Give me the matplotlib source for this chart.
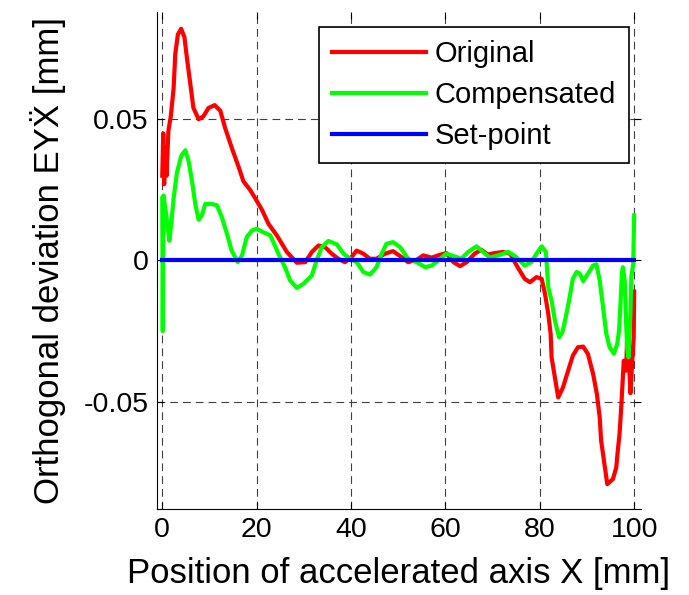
import numpy as np
import matplotlib
matplotlib.use("Agg")
import matplotlib.pyplot as plt
from matplotlib import ticker

# values
red_x = [0, 0.2, 0.4, 0.6, 0.9, 1.3, 1.8, 2.4, 2.75, 3.3, 4.0, 4.7, 5.2, 5.9, 6.6,
         7.7, 8.7, 9.8, 11.1, 12.3, 13.3, 14.7, 16.2, 17.2, 18.6, 19.7, 21.1, 22.5,
         24.3, 26.4, 28.5, 30.3, 31.7, 33.1, 34.5, 35.9, 37.3, 38.7, 40.1, 41.2,
         42.6, 44.0, 45.4, 47.2, 48.9, 50.7, 52.1, 53.9, 55.3, 57.1, 58.8, 60.2,
         61.7, 63.1, 64.5, 66.2, 67.6, 69.0, 70.4, 72.2, 73.7, 74.7, 75.7, 76.8,
         77.9, 79.3, 80.4, 81.1, 81.8, 82.3, 82.5, 83.2, 83.9, 84.9, 85.9, 87.0,
         88.1, 89.2, 90.2, 91.3, 92.1, 92.7, 93.0, 93.8, 94.3, 95.5, 96.2, 96.6,
         96.9, 97.3, 97.6, 97.8, 98.3, 98.5, 98.9, 99.2, 99.6, 99.9, 100.0]
red_y = [0.030, 0.045, 0.027, 0.040, 0.030, 0.046, 0.051, 0.061, 0.073, 0.080,
         0.082, 0.079, 0.072, 0.063, 0.054, 0.050, 0.051, 0.054, 0.055, 0.053,
         0.047, 0.040, 0.033, 0.028, 0.025, 0.022, 0.018, 0.013, 0.0088, 0.0030,
         -0.0008, -0.0006, 0.0030, 0.0053, 0.0047, 0.0024, 0.0006, -0.0006, 0.0012,
         0.0035, 0.0024, 0.0006, 0.0006, 0.0024, 0.0033, 0.0012, -0.0006, 0.0002,
         0.0018, 0.0010, 0.0020, 0.0026, -0.0006, -0.0020, -0.0006, 0.0024, 0.0038,
         0.0021, 0.0026, 0.0030, 0.0024, -0.0006, -0.0035, -0.0065, -0.0077,
         -0.0059, -0.0065, -0.0118, -0.0189, -0.0260, -0.0343, -0.0414, -0.0485,
         -0.0450, -0.0396, -0.0337, -0.0307, -0.0305, -0.0331, -0.0402, -0.0473,
         -0.0556, -0.0638, -0.0733, -0.0792, -0.0774, -0.0733, -0.0662, -0.0615,
         -0.0508, -0.0414, -0.0355, -0.0390, -0.0280, -0.0355, -0.0470, -0.0355,
         -0.0270, -0.0110]

green_x = [0, 0.1, 0.25, 1.0, 1.5, 1.9, 2.4, 3.1, 4.0, 4.9, 5.6, 6.3, 7.0, 7.7,
           8.4, 9.1, 10.5, 11.6, 12.6, 13.7, 14.7, 16.0, 16.9, 17.9, 19.0, 20.0,
           21.4, 22.9, 24.6, 26.0, 27.1, 28.5, 29.9, 31.7, 32.7, 33.8, 35.2, 37.0,
           38.4, 39.8, 41.2, 42.6, 44.0, 45.4, 46.5, 47.5, 48.9, 50.4, 52.1, 53.9,
           55.7, 57.1, 58.5, 60.2, 62.0, 63.4, 64.8, 66.6, 68.0, 69.4, 71.2, 73.3,
           74.8, 76.8, 78.2, 79.3, 80.4, 81.3, 81.8, 82.5, 83.2, 84.1, 84.8, 85.5,
           86.2, 87.0, 87.8, 88.5, 89.2, 90.2, 91.3, 92.0, 92.7, 93.4, 94.1, 94.8,
           95.7, 96.4, 96.8, 97.1, 97.4, 97.6, 98.0, 98.2, 98.5, 98.8, 99.2, 99.4,
           99.8, 100.0]
green_y = [0.022, -0.025, 0.023, 0.014, 0.007, 0.013, 0.022, 0.031, 0.037, 0.039,
           0.035, 0.028, 0.020, 0.0144, 0.016, 0.020, 0.020, 0.0195, 0.0154, 0.0095,
           0.0035, -0.0006, 0.0018, 0.0083, 0.0106, 0.0112, 0.0100, 0.0089, 0.0024,
           -0.0024, -0.0071, -0.0097, -0.0083, -0.0053, 0.0, 0.0047, 0.0069, 0.0057,
           0.0024, 0.0006, -0.0006, -0.0041, -0.0050, -0.0024, 0.0024, 0.0059,
           0.0065, 0.0047, 0.0006, -0.0006, -0.0024, -0.0018, 0.0, 0.0024, 0.0014,
           0.0006, 0.0030, 0.0050, 0.0030, 0.0010, 0.0018, 0.0030, 0.0015, -0.0018,
           -0.0006, 0.0024, 0.0050, 0.0030, -0.0095, -0.0142, -0.0213, -0.0272,
           -0.0254, -0.0201, -0.0142, -0.0065, -0.0041, -0.0047, -0.0073, -0.0047,
           -0.0018, -0.0014, -0.0071, -0.0165, -0.0260, -0.0307, -0.0330, -0.0296,
           -0.0248, -0.0154, -0.0047, -0.0024, -0.0071, -0.0177, -0.0307, -0.0343,
           -0.0189, -0.0059, -0.0012, 0.0160]

set_x = [0, 100]
set_y = [0, 0]

x_ticks = [0, 20, 40, 60, 80, 100]
y_ticks = [-0.05, 0, 0.05]
y_tick_labels = ["-0.05", "0", "0.05"]


def plot_deviation():
    plt.rcParams['font.family'] = ['Liberation Sans', 'DejaVu Sans']

    fig = plt.figure(figsize=(6.89, 5.95), dpi=100)
    ax = fig.add_axes([0.228, 0.1445, 0.702, 0.8355])

    grid_style = dict(color='0.25', linewidth=0.8, linestyle=(0, (7, 4.5)), zorder=0)
    for xv in x_ticks:
        ax.axvline(xv, **grid_style)
    for yv in y_ticks:
        ax.axhline(yv, **grid_style)

    ax.plot(red_x, red_y, color='#ff0000', linewidth=3, solid_joinstyle='round',
            label='Original', zorder=2)
    ax.plot(green_x, green_y, color='#00ff00', linewidth=3, solid_joinstyle='round',
            label='Compensated', zorder=3)
    ax.plot(set_x, set_y, color='#0000ff', linewidth=3, label='Set-point', zorder=4)

    ax.set_xlim(-1.1, 101.4)
    ax.set_ylim(-0.088, 0.088)
    ax.set_xticks(x_ticks)
    ax.set_yticks(y_ticks)
    ax.yaxis.set_major_formatter(ticker.FixedFormatter(y_tick_labels))

    ax.spines['top'].set_visible(False)
    ax.spines['right'].set_visible(False)
    ax.tick_params(direction='in', length=5, width=0.8, labelsize=20.5,
                   top=True, right=True, pad=6)

    ax.set_xlabel('Position of accelerated axis X [mm]', fontsize=25, labelpad=10)
    ax.set_ylabel('Orthogonal deviation EY\u1e8c [mm]', fontsize=25, labelpad=13)

    leg = ax.legend(loc='upper right', bbox_to_anchor=(0.913, 0.955),
                    bbox_transform=fig.transFigure, fontsize=21, fancybox=False,
                    framealpha=1, edgecolor='black', handlelength=3.2,
                    borderpad=0.45, labelspacing=0.45, handletextpad=0.3,
                    borderaxespad=0)
    leg.get_frame().set_linewidth(1.2)

    fig.savefig('out.png', dpi=100)


if __name__ == "__main__":
    plot_deviation()
